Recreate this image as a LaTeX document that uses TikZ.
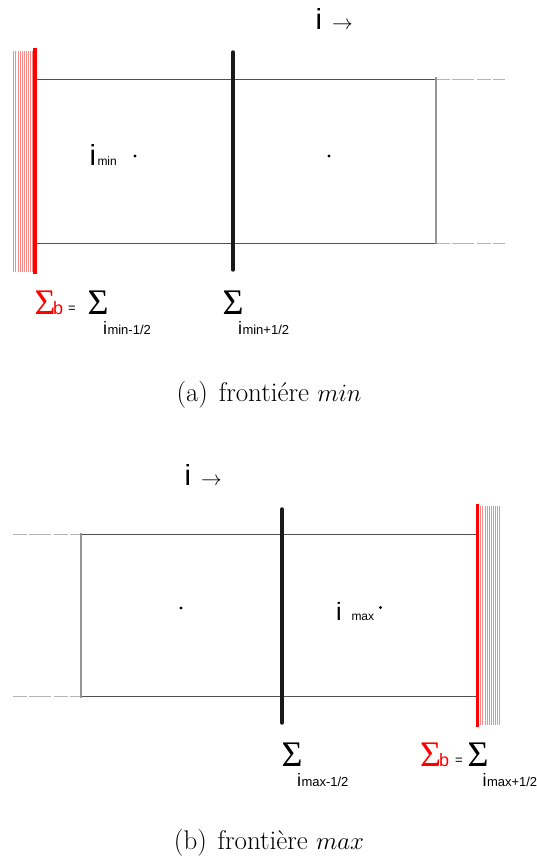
\documentclass[tikz,border=0pt]{standalone}
\usepackage{fontspec}
\newfontfamily\arialf{Liberation Sans}
\newfontfamily\tnrf{Liberation Serif}
\definecolor{hatchred}{RGB}{245,140,140}
\definecolor{cellgray}{RGB}{80,80,80}
\definecolor{ghostgray}{RGB}{150,150,150}
\tikzset{
  cellline/.style={draw=cellgray,line width=1pt},
  ghostline/.style={draw=ghostgray!70,line width=1pt,dash pattern=on 14pt off 2pt on 22pt off 3pt},
  thinvert/.style={draw=ghostgray,line width=1.2pt},
  facewall/.style={draw=red,line width=3.6pt},
  faceblack/.style={draw=black!90,line width=3.4pt},
  hatch/.style={draw=hatchred,line width=0.4pt},
  txt/.style={inner sep=0pt,outer sep=0pt,anchor=base west},
  bigi/.style={txt,font=\fontsize{29}{29}\arialf},
  subsm/.style={txt,font=\fontsize{12}{12}\arialf},
  sumsym/.style={txt,font=\fontsize{36}{36}\tnrf,text height=24pt,text depth=0pt},
  subi/.style={txt,font=\fontsize{18}{18}\arialf,text height=13pt,text depth=0pt},
  subrest/.style={txt,font=\fontsize{13}{13}\arialf,text height=9.5pt,text depth=0pt},
  bsub/.style={txt,font=\fontsize{18}{18}\arialf},
  eqs/.style={txt,font=\fontsize{13}{13}\arialf},
  arr/.style={txt,font=\fontsize{20}{20}\selectfont},
  captext/.style={inner sep=0pt,anchor=base,font=\fontsize{27}{30}\selectfont},
  cdot/.style={circle,fill=black,inner sep=0pt,minimum size=3.2pt}
}
\begin{document}
\begin{tikzpicture}[x=1pt,y=-1pt]
\useasboundingbox (0,0) rectangle (537,868);
% ================= panel (a) =================
% hatching
\foreach \k in {0,...,9} {
  \draw[hatch] (13.5+2.1*\k,51) -- (13.5+2.1*\k,272);
}
\coordinate (aTL) at (35,79.3);
\coordinate (aBL) at (35,243.3);
\coordinate (aTR) at (436,79.3);
\coordinate (aBR) at (436,243.3);
\coordinate (aTE) at (505,79.3);
\coordinate (aBE) at (505,243.3);
\draw[cellline] (aTL) -- (aTR);
\draw[cellline] (aBL) -- (aBR);
\draw[ghostline] (aTR) -- (aTE);
\draw[ghostline] (aBR) -- (aBE);
\draw[thinvert] (436,77) -- (436,244);
\draw[faceblack,line cap=round] (233,52) -- (233,270);
\draw[facewall] (35,48) -- (35,274);
% texts
\node[bigi] (ai) at (315.5,29) {i};
\node[arr] (aarr) at (332,29.5) {$\rightarrow$};
\node[bigi] (aimin) at (89.5,165.7) {i};
\node[subsm] (amin) at (97.5,165.7) {min};
\node[cdot] (adot1) at (135,156) {};
\node[cdot] (adot2) at (329,156) {};
% sigma labels
\node[sumsym,text=red] (asb) at (34.5,314) {Σ};
\node[bsub,text=red] (ab) at (53,314) {b};
\node[eqs] (aeq) at (68,312) {=};
\node[sumsym] (as1) at (87.5,314) {Σ};
\node[subi] (as1i) at (103,334) {i};
\node[subrest] (as1r) at (107.5,334) {min-1/2};
\node[sumsym] (as2) at (222.5,314) {Σ};
\node[subi] (as2i) at (238,334) {i};
\node[subrest] (as2r) at (242.5,334) {min+1/2};
\node[captext] (capa) at (269,401.5) {(a)\hspace{0.4em}frontiére $min$};
% ================= panel (b) =================
\foreach \k in {0,...,9} {
  \draw[hatch] (480.5+2.1*\k,506) -- (480.5+2.1*\k,725);
}
\coordinate (bTS) at (13,534.3);
\coordinate (bBS) at (13,696);
\coordinate (bTL) at (81,534.3);
\coordinate (bBL) at (81,696);
\coordinate (bTR) at (477,534.3);
\coordinate (bBR) at (477,696);
\draw[ghostline] (bTS) -- (bTL);
\draw[ghostline] (bBS) -- (bBL);
\draw[cellline] (bTL) -- (bTR);
\draw[cellline] (bBL) -- (bBR);
\draw[thinvert] (81,533) -- (81,698);
\draw[faceblack,line cap=round] (282,509) -- (282,723);
\draw[facewall] (477.3,504) -- (477.3,727);
% texts
\node[bigi] (bi) at (184.5,485) {i};
\node[arr] (barr) at (201,485.5) {$\rightarrow$};
\node[cdot] (bdot1) at (181,608) {};
\node[txt,font=\fontsize{25}{25}\arialf] (bimax) at (336,620.5) {i};
\node[subsm] (bmax) at (351.5,620.5) {max};
\node[cdot] (bdot2) at (380.5,607.5) {};
\node[sumsym] (bs1) at (281.5,766) {Σ};
\node[subi] (bs1i) at (297,786) {i};
\node[subrest] (bs1r) at (301.5,786) {max-1/2};
\node[sumsym,text=red] (bsb) at (420,766) {Σ};
\node[bsub,text=red] (bb) at (439,766) {b};
\node[eqs] (beq) at (455,764) {=};
\node[sumsym] (bs2) at (467.5,766) {Σ};
\node[subi] (bs2i) at (482.5,786) {i};
\node[subrest] (bs2r) at (487,786) {max+1/2};
\node[captext] (capb) at (269,849) {(b)\hspace{0.4em}frontière $max$};
\end{tikzpicture}
\end{document}
